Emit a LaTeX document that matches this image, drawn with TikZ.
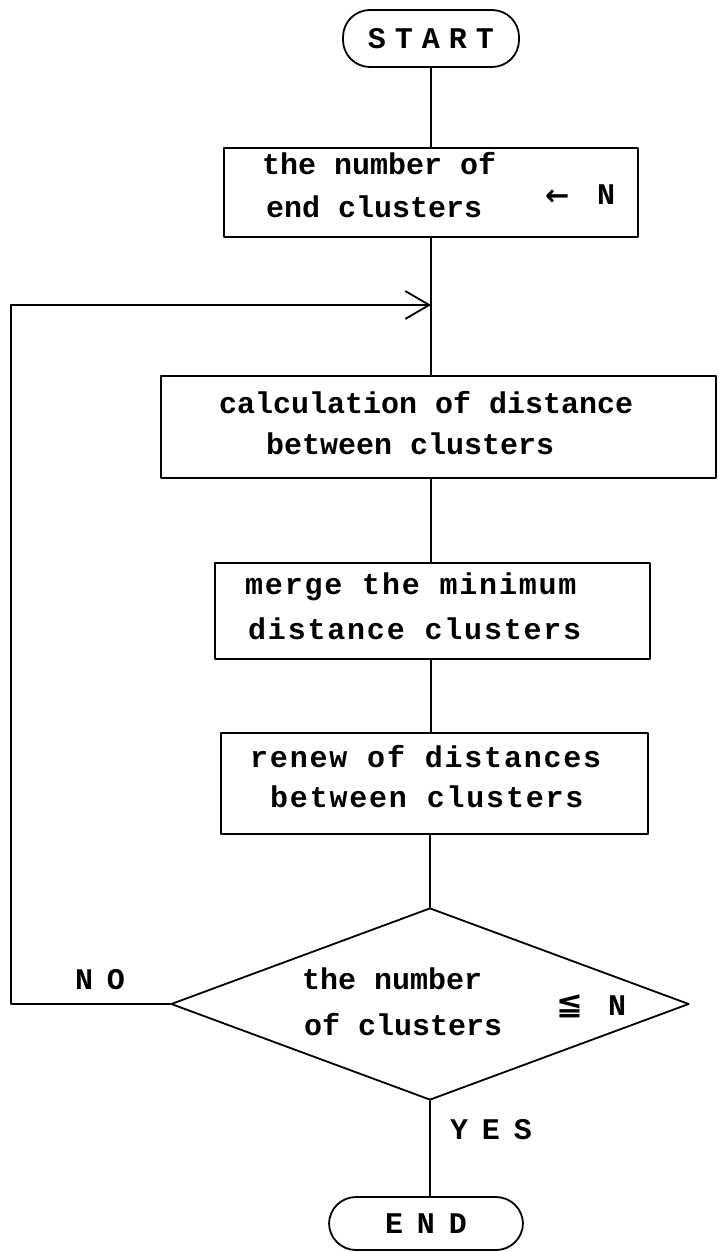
\documentclass[tikz,border=0pt]{standalone}
\usepackage{fontspec}
\usetikzlibrary{arrows.meta,shapes.geometric}
\newfontfamily\twA{Liberation Mono}
\newfontfamily\twB{Liberation Mono}[LetterSpace=6]
\newfontfamily\twC{Liberation Mono}[LetterSpace=30]
\newfontfamily\twD{Liberation Mono}[LetterSpace=46]
\newfontfamily\sym{DejaVu Sans}
\tikzset{
  ln/.style={line width=1.8pt, line cap=round, line join=round},
  box/.style={draw, ln, rectangle, inner sep=0pt},
  pill/.style={draw, ln, rectangle, rounded corners=27pt, inner sep=0pt},
  txt/.style={anchor=mid west, inner sep=0pt, font=\fontsize{30}{36}\selectfont\twA\bfseries},
  txtw/.style={anchor=mid west, inner sep=0pt, font=\fontsize{30}{36}\selectfont\twB\bfseries},
  lbl/.style={anchor=mid west, inner sep=0pt, font=\fontsize{30}{36}\selectfont\twD\bfseries},
}
\begin{document}
\begin{tikzpicture}[x=1pt,y=-1pt]
\useasboundingbox (0,0) rectangle (718,1252);
% nodes
\node[pill, minimum width=176pt, minimum height=57pt, font=\fontsize{30}{36}\selectfont\twC\bfseries] (start) at (431,38.5) {START};
\node[box, minimum width=414pt, minimum height=89pt] (b1) at (431,192.5) {};
\node[box, minimum width=555pt, minimum height=102pt] (b2) at (438.5,427) {};
\node[box, minimum width=435pt, minimum height=96pt] (b3) at (432.5,611) {};
\node[box, minimum width=427pt, minimum height=101pt] (b4) at (434.5,783.5) {};
\node[draw, ln, diamond, inner sep=0pt, minimum width=518pt, minimum height=192pt] (dia) at (430,1004) {};
\node[pill, minimum width=194pt, minimum height=53pt, font=\fontsize{30}{36}\selectfont\twD\bfseries] (end) at (426,1223.5) {END};
% texts
\node[txt] (t1a) at (262,172) {the number of};
\node[txt] (t1b) at (266,215) {end clusters};
\node[anchor=mid west, inner sep=0pt, font=\fontsize{29}{32}\selectfont\sym\bfseries] (t1c) at (545,203) {←};
\node[txt] (t1d) at (597,202) {N};
\node[txt] (t2a) at (219,411) {calculation of distance};
\node[txt] (t2b) at (266,452) {between clusters};
\node[txtw] (t3a) at (245,592) {merge the minimum};
\node[txtw] (t3b) at (248,637) {distance clusters};
\node[txtw] (t4a) at (250,765) {renew of distances};
\node[txtw] (t4b) at (270,805) {between clusters};
\node[txt] (t5a) at (302,987) {the number};
\node[txt] (t5b) at (304,1033) {of clusters};
\node[anchor=mid west, inner sep=0pt, font=\fontsize{32}{36}\selectfont\sym\bfseries] (t5c) at (556,1012) {≦};
\node[txt] (t5d) at (608,1013) {N};
\node[lbl] (no) at (75,987) {NO};
\node[lbl] (yes) at (450,1137) {YES};
% connectors
\coordinate (lc) at (11,1004);
\coordinate (la) at (431,305);
\draw[ln] (start.south) -- (start.south |- b1.north);
\draw[ln] (b1.south) -- (b1.south |- b2.north);
\draw[ln] (b2.south -| b1.south) -- (b1.south |- b3.north);
\draw[ln] (b3.south -| b1.south) -- (b1.south |- b4.north);
\draw[ln] (b4.south -| dia.north) -- (dia.north);
\draw[ln] (dia.south) -- (dia.south |- end.north);
\draw[ln, -{Straight Barb[length=24pt,width=28pt,line width=1.8pt]}] (dia.west) -- (lc) |- (la);
\end{tikzpicture}
\end{document}
